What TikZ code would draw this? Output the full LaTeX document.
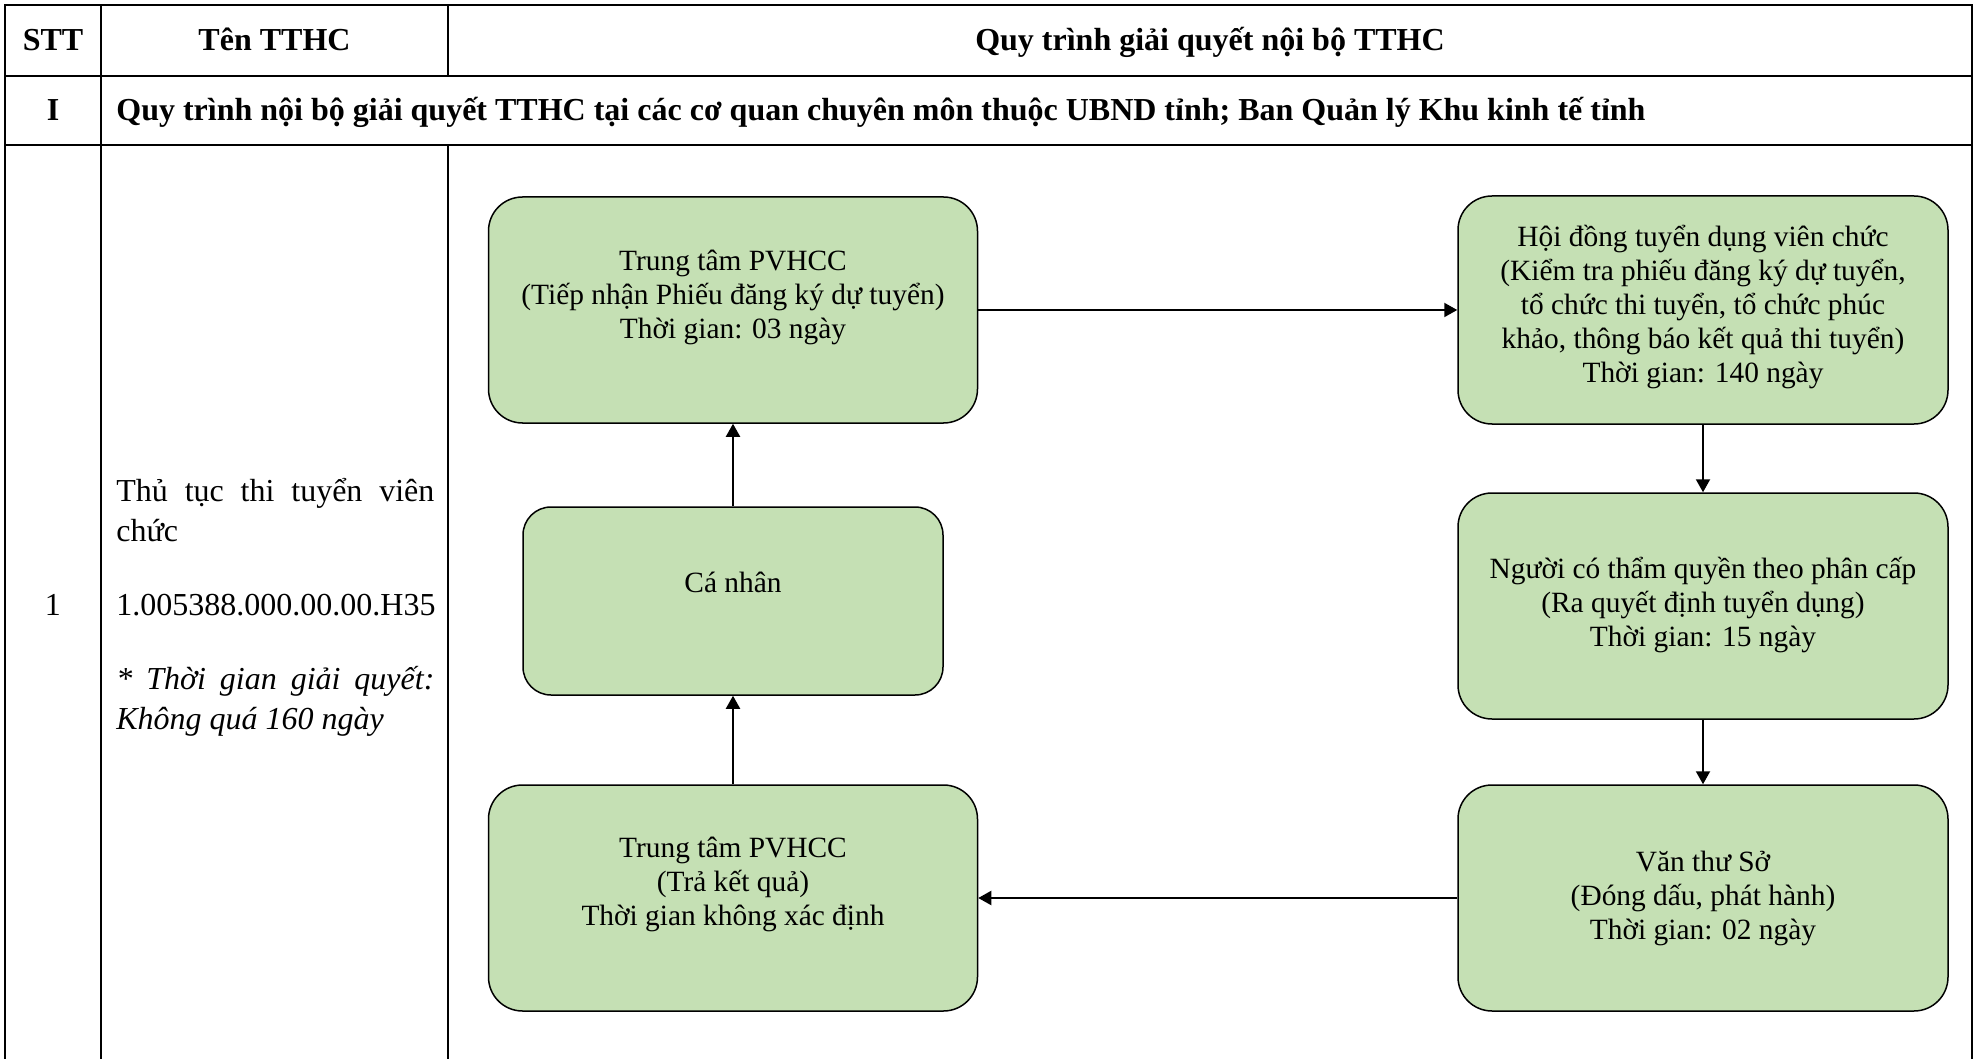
\documentclass[tikz,border=0pt]{standalone}
\usepackage{fontspec}
\setmainfont{Liberation Serif}
\usetikzlibrary{arrows.meta}

\definecolor{boxgreen}{HTML}{C5E0B4}
\newcommand{\tablefont}{\fontsize{16}{20}\selectfont}
\newcommand{\boxfont}{\fontsize{14.7}{17}\selectfont}
% width, height, space above the first line, text
\newcommand{\steptext}[4]{\parbox[c][#2][t]{#1}{\centering\vspace*{#3}\strut#4}}

\begin{document}
\begin{tikzpicture}[x=0.5pt,y=-0.5pt,
	stepbox/.style={draw=black, line width=0.75pt, fill=boxgreen, rounded corners=17pt, inner sep=0pt, font=\boxfont},
	arr/.style={-{Triangle[length=6.5pt,width=7pt]}, line width=1pt},
	rule/.style={line width=1pt}]
	\useasboundingbox (0,0) rectangle (1977,1059);
	
	% table
	\draw[rule] (5,1059) -- (5,5) -- (1972,5) -- (1972,1059);
	\draw[rule] (5,76) -- (1972,76);
	\draw[rule] (5,145) -- (1972,145);
	\draw[rule] (101,5) -- (101,1059);
	\draw[rule] (448,5) -- (448,76);
	\draw[rule] (448,145) -- (448,1059);
	
	\node[font=\tablefont\bfseries, anchor=base] (stt) at (53,51) {STT};
	\node[font=\tablefont\bfseries, anchor=base] (ten) at (274.5,51) {Tên TTHC};
	\node[font=\tablefont\bfseries, anchor=base] (quytrinh) at (1210,51) {Quy trình giải quyết nội bộ TTHC};
	\node[font=\tablefont\bfseries, anchor=base] (muc) at (53,121) {I};
	\node[font=\tablefont\bfseries, anchor=base west, inner sep=0pt] (tieude) at (116,121) {Quy trình nội bộ giải quyết TTHC tại các cơ quan chuyên môn thuộc UBND tỉnh; Ban Quản lý Khu kinh tế tỉnh};
	
	\node[font=\tablefont, anchor=base] (so) at (53,615) {1};
	\node[font=\tablefont, anchor=north west, inner sep=0pt, text width=159pt, align=justify] (thutuc) at (116,478) {Thủ tục thi tuyển viên chức\par\vspace{17pt}1.005388.000.00.00.H35\par\vspace{17pt}\textit{* Thời gian giải quyết: Không quá 160 ngày}};
	
	% steps
	\node[stepbox] (tiepnhan) at (733,310) {\steptext{244.5pt}{113pt}{25pt}{Trung tâm PVHCC\\(Tiếp nhận Phiếu đăng ký dự tuyển)\\Thời gian: 03 ngày}};
	\node[stepbox] (hoidong) at (1703,310) {\steptext{245pt}{114pt}{13.5pt}{Hội đồng tuyển dụng viên chức\\(Kiểm tra phiếu đăng ký dự tuyển,\\tổ chức thi tuyển, tổ chức phúc\\khảo, thông báo kết quả thi tuyển)\\Thời gian: 140 ngày}};
	\node[stepbox] (nguoicotham) at (1703,606) {\steptext{245pt}{113pt}{30.8pt}{Người có thẩm quyền theo phân cấp\\(Ra quyết định tuyển dụng)\\Thời gian: 15 ngày}};
	\node[stepbox] (vanthu) at (1703,898) {\steptext{245pt}{113pt}{31.5pt}{Văn thư Sở\\(Đóng dấu, phát hành)\\Thời gian: 02 ngày}};
	\node[stepbox] (trakq) at (733,898) {\steptext{244.5pt}{113pt}{24.5pt}{Trung tâm PVHCC\\(Trả kết quả)\\Thời gian không xác định}};
	\node[stepbox, rounded corners=14pt] (canhan) at (733,601) {\steptext{210pt}{94pt}{31pt}{Cá nhân}};
	
	\path[arr] (tiepnhan) edge (hoidong);
	\path[arr] (hoidong) edge (nguoicotham);
	\path[arr] (nguoicotham) edge (vanthu);
	\path[arr] (vanthu) edge (trakq);
	\path[arr] (trakq) edge (canhan);
	\path[arr] (canhan) edge (tiepnhan);
\end{tikzpicture}
\end{document}
